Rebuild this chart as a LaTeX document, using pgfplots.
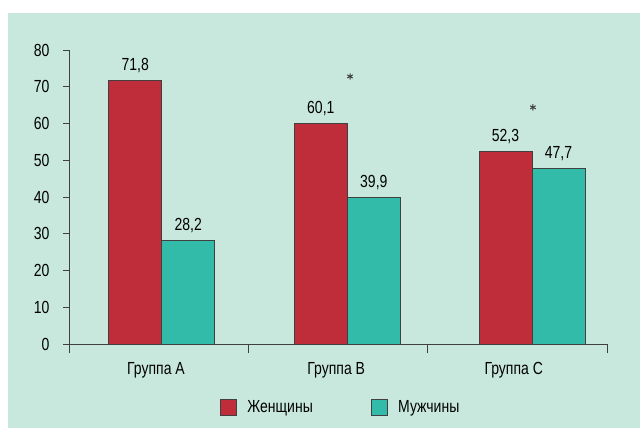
\documentclass[border=0pt]{standalone}
\usepackage{fontspec}
\setmainfont{Liberation Sans}[FakeStretch=0.8]
\usepackage{pgfplots}
\pgfplotsset{compat=1.18}
\definecolor{bgc}{HTML}{C8E8DE}
\definecolor{redb}{HTML}{BE2D39}
\definecolor{tealb}{HTML}{33BBA9}
\definecolor{axc}{HTML}{404040}
\begin{document}
\begin{tikzpicture}[font=\fontsize{17.5bp}{20bp}\selectfont]
\fill[white] (-69bp,-84bp) rectangle (571bp,344bp);
\fill[bgc] (-61bp,-84bp) rectangle (571bp,331bp);
\begin{axis}[
  at={(0,0)}, anchor=south west,
  scale only axis, width=538bp, height=294bp,
  xmin=0, xmax=3, ymin=0, ymax=80,
  axis lines=left,
  axis line style={-, draw=axc, line width=0.8pt},
  tick style={draw=axc, line width=0.8pt},
  tick align=outside,
  major tick length=6bp,
  minor tick length=9bp,
  ytick={0,10,...,80},
  xtick={0.485,1.49,2.48},
  xticklabels={Группа A, Группа B, Группа C},
  minor xtick={0,1,2,3},
  major x tick style={draw=none},
  yticklabel style={xshift=-10bp},
  xticklabel style={yshift=-9bp},
  /pgf/number format/assume math mode=true,
  ybar, bar width=53bp,
  nodes near coords={\pgfmathprintnumber[fixed,fixed zerofill,precision=1,use comma,assume math mode=true]{\pgfplotspointmeta}},
  every node near coord/.append style={anchor=south, yshift=4bp, text=black},
  legend style={at={(0.505,-0.215)}, anchor=center, draw=none, fill=none,
    legend columns=2, /tikz/every even column/.append style={column sep=56bp},
    font=\fontsize{17.5bp}{20bp}\selectfont},
  legend cell align=left,
]
\addplot[fill=redb, draw=axc, line width=0.8pt, bar shift=-26.5bp,
  legend image code/.code={\draw[fill=redb, draw=axc, line width=0.8pt] (0bp,-8bp) rectangle (16bp,8bp); \path[draw=none,fill=none] (0bp,0bp) -- (25bp,0bp);}]
  coordinates {(0.517,71.8) (1.552,60.1) (2.582,52.3)};
\addlegendentry{Женщины}
\addplot[fill=tealb, draw=axc, line width=0.8pt, bar shift=26.5bp,
  legend image code/.code={\draw[fill=tealb, draw=axc, line width=0.8pt] (0bp,-8bp) rectangle (16bp,8bp); \path[draw=none,fill=none] (0bp,0bp) -- (25bp,0bp);}]
  coordinates {(0.517,28.2) (1.552,39.9) (2.582,47.7)};
\addlegendentry{Мужчины}
\addplot[only marks, mark=asterisk, mark size=3.2bp, mark options={line width=1pt}, draw=axc, nodes near coords={}, forget plot, bar shift=0pt]
  coordinates {(1.567,72.8) (2.587,64.4)};
\end{axis}
\pgfresetboundingbox
\path[use as bounding box] (-69bp,-84bp) rectangle (571bp,344bp);
\end{tikzpicture}
\end{document}
